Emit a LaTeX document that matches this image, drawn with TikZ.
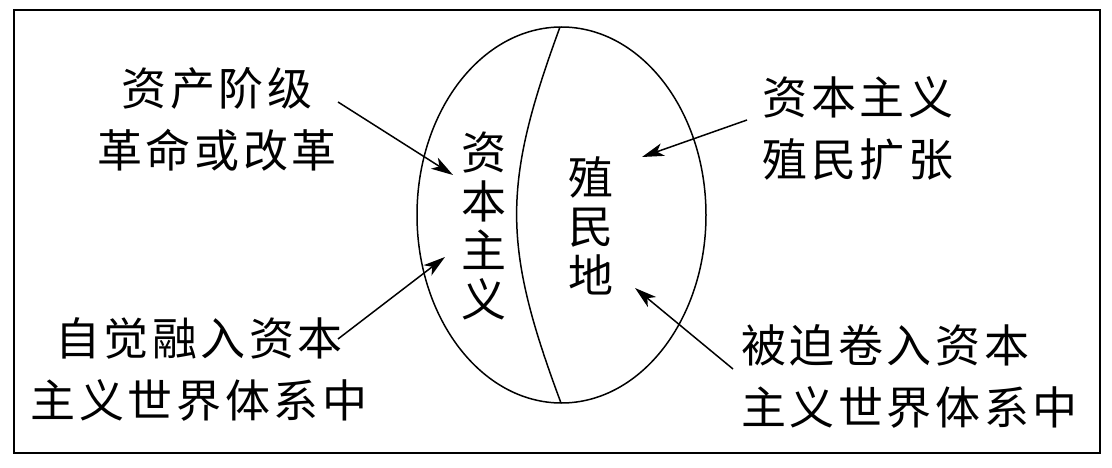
\documentclass[tikz,border=0pt]{standalone}
\usepackage{fontspec}
\usetikzlibrary{arrows.meta}
\newfontfamily\cjk[LetterSpace=8]{Noto Sans CJK SC}
\tikzset{
  lbl/.style={inner sep=0pt, font=\cjk\fontsize{45}{62}\selectfont},
  vlbl/.style={inner sep=0pt, align=center, font=\cjk\fontsize{45}{49}\selectfont},
  arr/.style={line width=1.5pt, -{Stealth[length=22pt,width=13pt,inset=6pt]}},
  frame/.style={line width=2.6pt},
  globe/.style={line width=1.5pt}
}
\begin{document}
\begin{tikzpicture}[x=1pt,y=-1pt]
\useasboundingbox (0,0) rectangle (1112,468);
\draw[frame] (14,10) rectangle (1100,453);
% ellipse and dividing curve
\draw[globe] (561.5,215) ellipse [x radius=144.5pt, y radius=188pt];
\coordinate (ctop) at (560,27);
\coordinate (cbot) at (561,403);
\draw[globe] (ctop) .. controls (502,185) and (502,245) .. (cbot);
% inner labels
\node[vlbl] (cap) at (484,226) {资\\本\\主\\义};
\node[vlbl] (col) at (591,226) {殖\\民\\地};
% outer labels
\node[lbl, align=center] (rev) at (217,119) {资产阶级\\革命或改革};
\node[lbl, align=center] (self) at (199,369) {自觉融入资本\\主义世界体系中};
\node[lbl, align=center] (exp) at (858,128) {资本主义\\殖民扩张};
\node[lbl, align=left, anchor=west] (forced) at (741,376) {被迫卷入资本\\主义世界体系中};
% arrows
\coordinate (s1) at (338,102); \coordinate (t1) at (453,175);
\coordinate (s2) at (338,339); \coordinate (t2) at (445,257);
\coordinate (s3) at (747,120); \coordinate (t3) at (642,157);
\coordinate (s4) at (733,369); \coordinate (t4) at (635,288);
\draw[arr] (s1) -- (t1);
\draw[arr] (s2) -- (t2);
\draw[arr] (s3) -- (t3);
\draw[arr] (s4) -- (t4);
\end{tikzpicture}
\end{document}
